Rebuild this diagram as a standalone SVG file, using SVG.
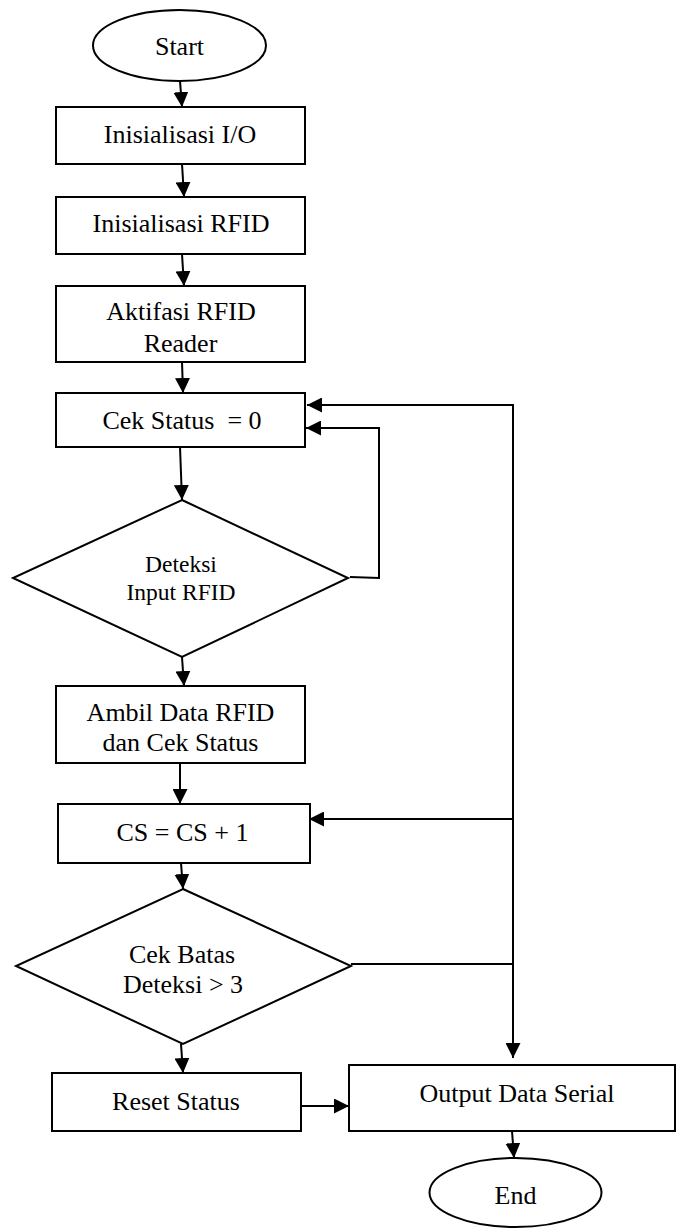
<svg xmlns="http://www.w3.org/2000/svg" width="676" height="1228" viewBox="0 0 676 1228">
<style>
.s{fill:#fff;stroke:#000;stroke-width:2}
.c{fill:none;stroke:#000;stroke-width:2}
text{font-family:"Liberation Serif","Times New Roman",serif;font-size:26px;fill:#000;text-anchor:middle}
.sm{font-size:23.5px}
</style>
<defs>
<marker id="ah" markerUnits="userSpaceOnUse" markerWidth="15" markerHeight="15" refX="15" refY="7.5" orient="auto">
<path d="M0,0 L15,7.5 L0,15 z" fill="#000"/>
</marker>
</defs>
<rect width="676" height="1228" fill="#fff"/>
<g id="connectors">
<line class="c" x1="180" y1="81" x2="182" y2="107" marker-end="url(#ah)"/>
<line class="c" x1="182" y1="164" x2="184" y2="197" marker-end="url(#ah)"/>
<line class="c" x1="182" y1="254" x2="184" y2="286" marker-end="url(#ah)"/>
<line class="c" x1="182" y1="362" x2="183" y2="393" marker-end="url(#ah)"/>
<line class="c" x1="180" y1="447" x2="182" y2="500" marker-end="url(#ah)"/>
<line class="c" x1="182" y1="657" x2="184" y2="686" marker-end="url(#ah)"/>
<line class="c" x1="180" y1="763" x2="180" y2="804" marker-end="url(#ah)"/>
<line class="c" x1="181" y1="863" x2="183" y2="889" marker-end="url(#ah)"/>
<line class="c" x1="181" y1="1044" x2="183" y2="1073" marker-end="url(#ah)"/>
<line class="c" x1="301" y1="1106" x2="349" y2="1106" marker-end="url(#ah)"/>
<line class="c" x1="512" y1="1131" x2="514" y2="1158" marker-end="url(#ah)"/>
<polyline class="c" points="350,577 379,578 379,428 306,428" marker-end="url(#ah)"/>
<line class="c" x1="514" y1="405" x2="307" y2="405" marker-end="url(#ah)"/>
<line class="c" x1="513" y1="404" x2="513" y2="1058" marker-end="url(#ah)"/>
<line class="c" x1="513" y1="819" x2="309" y2="819" marker-end="url(#ah)"/>
<line class="c" x1="351" y1="964" x2="514" y2="964"/>
</g>
<g id="start">
<ellipse class="s" cx="179.5" cy="45.5" rx="86.5" ry="35.5"/>
<text x="179.5" y="55">Start</text>
</g>
<g id="init-io">
<rect class="s" x="56" y="107" width="249" height="57"/>
<text x="180" y="143">Inisialisasi I/O</text>
</g>
<g id="init-rfid">
<rect class="s" x="56" y="197" width="249" height="57"/>
<text x="181" y="232">Inisialisasi RFID</text>
</g>
<g id="aktifasi">
<rect class="s" x="56" y="286" width="249" height="76"/>
<text x="181" y="320">Aktifasi RFID</text>
<text x="180.5" y="352">Reader</text>
</g>
<g id="cek-status">
<rect class="s" x="56" y="393" width="249" height="54"/>
<text x="182" y="429">Cek Status&#160; = 0</text>
</g>
<g id="deteksi">
<polygon class="s" points="182,500 348,578 182,657 13,578"/>
<text class="sm" x="181" y="572">Deteksi</text>
<text class="sm" x="181" y="600">Input RFID</text>
</g>
<g id="ambil">
<rect class="s" x="56" y="686" width="249" height="77"/>
<text x="180.5" y="721">Ambil Data RFID</text>
<text x="180.5" y="751">dan Cek Status</text>
</g>
<g id="cs">
<rect class="s" x="58" y="804" width="252" height="59"/>
<text x="182.5" y="841">CS = CS + 1</text>
</g>
<g id="cek-batas">
<polygon class="s" points="183,889 351,966 183,1044 16,966"/>
<text x="182" y="963">Cek Batas</text>
<text x="183" y="993">Deteksi &gt; 3</text>
</g>
<g id="reset">
<rect class="s" x="52" y="1073" width="249" height="58"/>
<text x="176" y="1110">Reset Status</text>
</g>
<g id="output">
<rect class="s" x="349" y="1065" width="326" height="66"/>
<text x="517" y="1102">Output Data Serial</text>
</g>
<g id="end">
<ellipse class="s" cx="515.5" cy="1192.5" rx="86" ry="34.5"/>
<text x="515.5" y="1204">End</text>
</g>
</svg>
